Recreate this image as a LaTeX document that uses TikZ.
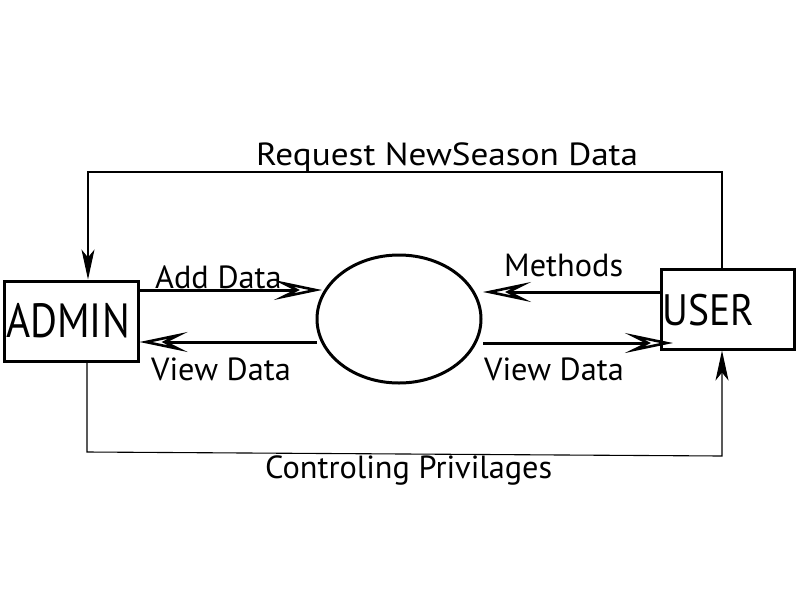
\documentclass[tikz,border=0pt]{standalone}
\usepackage{fontspec}
\setmainfont{PT Sans}
\newfontfamily\adminfont[FakeStretch=0.86]{PT Sans}
\newfontfamily\userfont[FakeStretch=0.9]{PT Sans}
\newfontfamily\labfont[FakeStretch=1.01]{PT Sans}
\newfontfamily\reqfont[FakeStretch=1.1]{PT Sans}
\usetikzlibrary{arrows.meta,shapes.geometric}
\tikzset{
  entity/.style={draw, line width=3pt, inner sep=0pt, rectangle},
  proc/.style={draw, ellipse, line width=3pt, inner sep=0pt, minimum width=164pt, minimum height=128pt},
  flow/.style={line width=3pt, -{Stealth[open, length=48pt, width=20pt, inset=20pt, line width=2.6pt]}},
  ctrl/.style={line width=1.1pt, -{Stealth[length=30pt, width=13pt, inset=8pt]}},
  lab/.style={font=\labfont\fontsize{32}{34}\selectfont, inner sep=0pt, anchor=base west},
  big/.style={inner sep=0pt, anchor=base west}
}
\begin{document}
\begin{tikzpicture}[x=1pt, y=-1pt]
\useasboundingbox[fill=white] (0,0) rectangle (800,600);
% boxes
\node[entity, minimum width=134pt, minimum height=80pt] (admin) at (71,321) {};
\node[entity, minimum width=133pt, minimum height=80pt] (user) at (727.5,309) {};
\node[proc] (ell) at (399,319) {};
\node[big, font=\adminfont\fontsize{48}{50}\selectfont] (admintext) at (6,337) {ADMIN};
\node[big, font=\userfont\fontsize{44}{46}\selectfont] (usertext) at (662,325) {USER};
% coordinates on borders
\coordinate (a1) at (admin.east |- 0,290);
\coordinate (e1) at (322,290);
\coordinate (e2) at (317,342);
\coordinate (a2) at (admin.east |- 0,342);
\coordinate (u1) at (user.west |- 0,292);
\coordinate (e3) at (483,292);
\coordinate (e4) at (483,343);
\coordinate (u2) at (673,343);
\draw[flow] (a1) -- (e1);
\draw[flow] (e2) -- (a2);
\draw[flow] (u1) -- (e3);
\draw[flow] (e4) -- (u2);
% control lines
\coordinate (r1) at (722,172);
\coordinate (r2) at (88,172);
\coordinate (c1) at (87,452);
\coordinate (c2) at (722,456);
\draw[ctrl] (user.north -| r1) -- (r1) -- (r2) -- (admin.north -| r2);
\draw[ctrl] (admin.south -| c1) -- (c1) -- (c2) -- (user.south -| c2);
% labels
\node[lab] (l1) at (155,288) {Add Data};
\node[lab] (l2) at (504,276) {Methods};
\node[lab] (l3) at (151,380) {View Data};
\node[lab] (l4) at (484,380) {View Data};
\node[lab, font=\reqfont\fontsize{32}{34}\selectfont] (l5) at (256,165) {Request NewSeason Data};
\node[lab] (l6) at (265,478) {Controling Privilages};
\end{tikzpicture}
\end{document}
